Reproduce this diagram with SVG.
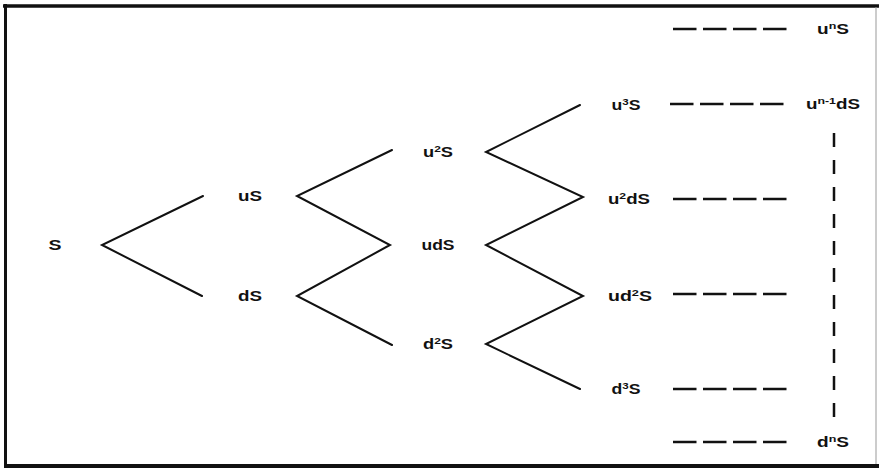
<svg xmlns="http://www.w3.org/2000/svg" width="879" height="469" viewBox="0 0 879 469">
<style>
.lbl{font-family:"Liberation Sans",Arial,sans-serif;font-weight:bold;font-size:14.5px;fill:#111;text-anchor:middle}
.sup{font-size:9.5px}
.br{stroke:#111;stroke-width:2;fill:none;stroke-linecap:round}
.dh{stroke:#111;stroke-width:2.5;fill:none;stroke-dasharray:23.5 6.5}
.dv{stroke:#111;stroke-width:2.5;fill:none;stroke-dasharray:14 13}
</style>
<rect width="879" height="469" fill="#fff"/>
<g id="frame">
<line x1="3" y1="6" x2="879" y2="6" stroke="#111" stroke-width="3.5"/>
<line x1="5.5" y1="4" x2="5.5" y2="467" stroke="#111" stroke-width="3"/>
<line x1="4" y1="466" x2="879" y2="466" stroke="#111" stroke-width="4"/>
<line x1="876" y1="7" x2="876" y2="464" stroke="#999" stroke-width="1"/>
</g>
<g id="connectors">
<polyline class="br" points="203,196 102,245 202,296"/>
<polyline class="br" points="392,150 297,196 390,245 297,296 392,345"/>
<polyline class="br" points="580,105 486,152 583,197 486,245 583,296 486,344 580,389"/>
<line class="dh" x1="673" y1="29" x2="787" y2="29"/>
<line class="dh" x1="670" y1="104" x2="784" y2="104"/>
<line class="dh" x1="673" y1="199" x2="787" y2="199"/>
<line class="dh" x1="673" y1="294" x2="787" y2="294"/>
<line class="dh" x1="673" y1="389" x2="787" y2="389"/>
<line class="dh" x1="673" y1="442" x2="787" y2="442"/>
<line class="dv" x1="834" y1="133" x2="834" y2="418"/>
</g>
<g id="n-S"><text class="lbl" x="55" y="250" textLength="13" lengthAdjust="spacingAndGlyphs">S</text></g>
<g id="n-uS"><text class="lbl" x="250" y="201" textLength="24" lengthAdjust="spacingAndGlyphs">uS</text></g>
<g id="n-dS"><text class="lbl" x="250" y="301" textLength="24" lengthAdjust="spacingAndGlyphs">dS</text></g>
<g id="n-u2S"><text class="lbl" x="438" y="157" textLength="30" lengthAdjust="spacingAndGlyphs">u<tspan class="sup" dy="-5">2</tspan><tspan dy="5">S</tspan></text></g>
<g id="n-udS"><text class="lbl" x="438" y="250" textLength="33" lengthAdjust="spacingAndGlyphs">udS</text></g>
<g id="n-d2S"><text class="lbl" x="438" y="349" textLength="30" lengthAdjust="spacingAndGlyphs">d<tspan class="sup" dy="-5">2</tspan><tspan dy="5">S</tspan></text></g>
<g id="n-u3S"><text class="lbl" x="626" y="110" textLength="29" lengthAdjust="spacingAndGlyphs">u<tspan class="sup" dy="-5">3</tspan><tspan dy="5">S</tspan></text></g>
<g id="n-u2dS"><text class="lbl" x="629" y="204" textLength="42" lengthAdjust="spacingAndGlyphs">u<tspan class="sup" dy="-5">2</tspan><tspan dy="5">dS</tspan></text></g>
<g id="n-ud2S"><text class="lbl" x="630" y="301" textLength="44" lengthAdjust="spacingAndGlyphs">ud<tspan class="sup" dy="-5">2</tspan><tspan dy="5">S</tspan></text></g>
<g id="n-d3S"><text class="lbl" x="626" y="394" textLength="29" lengthAdjust="spacingAndGlyphs">d<tspan class="sup" dy="-5">3</tspan><tspan dy="5">S</tspan></text></g>
<g id="n-unS"><text class="lbl" x="833" y="34" textLength="32" lengthAdjust="spacingAndGlyphs">u<tspan class="sup" dy="-5">n</tspan><tspan dy="5">S</tspan></text></g>
<g id="n-un1dS"><text class="lbl" x="833" y="109" textLength="54" lengthAdjust="spacingAndGlyphs">u<tspan class="sup" dy="-5">n-1</tspan><tspan dy="5">dS</tspan></text></g>
<g id="n-dnS"><text class="lbl" x="833" y="447" textLength="32" lengthAdjust="spacingAndGlyphs">d<tspan class="sup" dy="-5">n</tspan><tspan dy="5">S</tspan></text></g>
</svg>
